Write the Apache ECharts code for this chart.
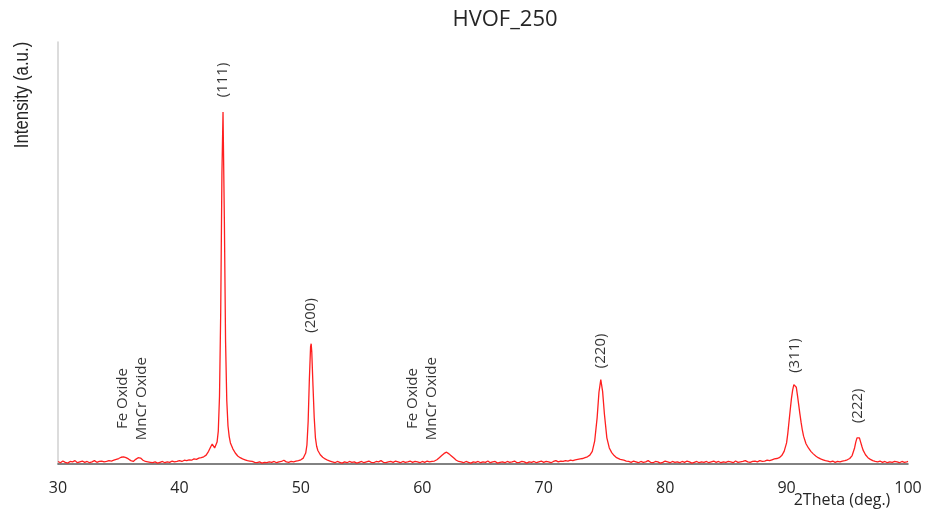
<!DOCTYPE html>
<html>
<head>
<meta charset="utf-8">
<title>HVOF_250</title>
<script src="https://cdn.jsdelivr.net/npm/echarts@6/dist/echarts.min.js"></script>
<style>
    html, body { margin: 0; padding: 0; background: #fff; }
    #chart { width: 935px; height: 513px; }
</style>
</head>
<body>
<div id="chart"></div>
<script>
'use strict';

// 2theta positions (deg.)
const twoTheta = [
    30.0, 30.2, 30.4, 30.6, 30.8, 31.0, 31.2, 31.4, 31.6, 31.8, 32.0, 32.2, 32.4, 32.6, 32.8,
    33.0, 33.2, 33.4, 33.6, 33.8, 34.0, 34.2, 34.4, 34.6, 34.8,
    35.0, 35.2, 35.4, 35.6, 35.8, 36.0, 36.2, 36.4, 36.6, 36.8, 37.0, 37.2, 37.4, 37.6,
    37.8, 38.0, 38.2, 38.4, 38.6, 38.8, 39.0, 39.2, 39.4, 39.6, 39.8, 40.0, 40.2, 40.4, 40.6,
    40.8, 41.0, 41.2, 41.4, 41.6, 41.8,
    42.0, 42.2, 42.4, 42.6, 42.7, 42.8, 42.9, 43.0, 43.1, 43.2, 43.3, 43.4, 43.5, 43.59,
    43.7, 43.8, 43.9, 44.0, 44.1, 44.2, 44.4, 44.6, 44.8, 45.0, 45.2, 45.4, 45.6, 45.8,
    46.0, 46.2, 46.4, 46.6, 46.8, 47.0, 47.2, 47.4, 47.6, 47.8, 48.0, 48.2, 48.4, 48.6,
    48.8, 49.0, 49.2, 49.4, 49.6, 49.8,
    50.0, 50.2, 50.4, 50.5, 50.6, 50.7, 50.8, 50.85, 50.9, 51.0, 51.1, 51.2, 51.3, 51.4,
    51.6, 51.8, 52.0, 52.2,
    52.4, 52.6, 52.8, 53.0, 53.2, 53.4, 53.6, 53.8, 54.0, 54.2, 54.4, 54.6, 54.8, 55.0,
    55.2, 55.4, 55.6, 55.8, 56.0, 56.2, 56.4, 56.6, 56.8, 57.0, 57.2, 57.4, 57.6, 57.8,
    58.0, 58.2, 58.4, 58.6, 58.8, 59.0, 59.2, 59.4, 59.6, 59.8, 60.0, 60.2, 60.4, 60.6, 60.8,
    61.0, 61.2, 61.4, 61.6, 61.8, 61.9, 62.0, 62.1, 62.2, 62.4, 62.6, 62.8, 63.0,
    63.2, 63.4, 63.6, 63.8, 64.0, 64.2, 64.4, 64.6, 64.8, 65.0, 65.2, 65.4, 65.6, 65.8,
    66.0, 66.2, 66.4, 66.6, 66.8, 67.0, 67.2, 67.4, 67.6, 67.8, 68.0, 68.2, 68.4, 68.6,
    68.8, 69.0, 69.2, 69.4, 69.6, 69.8, 70.0, 70.2, 70.4, 70.6, 70.8, 71.0, 71.2, 71.4,
    71.6, 71.8, 72.0, 72.2, 72.4, 72.6, 72.8,
    73.0, 73.2, 73.4, 73.6, 73.8, 74.0, 74.2, 74.4, 74.55, 74.7, 74.85, 75.0, 75.2, 75.4,
    75.6, 75.8, 76.0, 76.3, 76.6, 76.8,
    77.0, 77.2, 77.4, 77.6, 77.8, 78.0, 78.2, 78.4, 78.6, 78.8, 79.0, 79.2, 79.4, 79.6,
    79.8, 80.0, 80.2, 80.4, 80.6, 80.8, 81.0, 81.2, 81.4, 81.6, 81.8, 82.0, 82.2, 82.4,
    82.6, 82.8, 83.0, 83.2, 83.4, 83.6, 83.8, 84.0, 84.2, 84.4, 84.6, 84.8, 85.0, 85.2,
    85.4, 85.6, 85.8, 86.0, 86.2, 86.4, 86.6, 86.8, 87.0, 87.2, 87.4, 87.6, 87.8, 88.0,
    88.2, 88.4, 88.6, 88.8,
    89.0, 89.2, 89.4, 89.6, 89.8, 90.0, 90.1, 90.2, 90.3, 90.4, 90.5, 90.6, 90.7, 90.8,
    90.9, 91.0, 91.1, 91.2, 91.3, 91.4, 91.6, 91.8, 92.0, 92.2, 92.4, 92.6, 92.8, 93.0,
    93.2, 93.4,
    93.6, 93.8, 94.0, 94.2, 94.4, 94.6, 94.8,
    95.0, 95.2, 95.4, 95.6, 95.7, 95.8, 95.9, 96.0, 96.1, 96.2, 96.3, 96.5, 96.7, 96.9,
    97.1, 97.3,
    97.5, 97.7, 97.9, 98.1, 98.3, 98.5, 98.7, 98.9, 99.1, 99.3, 99.5, 99.7, 99.9, 100.0
];

// intensity (a.u.) at each position above
const intensity = [
    6, 3, 7, 4, 2, 6, 5, 8, 3, 5, 7, 4, 6, 3, 5,
    8, 4, 6, 7, 5, 6, 8, 7, 9, 11,
    13, 16, 17, 15, 12, 8, 6, 11, 15, 14, 9, 6, 5, 4,
    3, 5, 2, 4, 6, 3, 5, 4, 7, 5, 6, 8, 6, 9, 8,
    10, 9, 12, 11, 14, 15,
    17, 21, 30, 42, 47, 44, 38, 40, 52, 78, 160, 360, 690, 834,
    580, 290, 150, 90, 65, 50, 36, 26, 19, 15, 12, 10, 8, 7,
    6, 4, 3, 5, 2, 4, 3, 5, 4, 6, 3, 5, 6, 9,
    5, 4, 6, 5, 7, 8,
    10, 14, 26, 45, 100, 200, 278, 285, 265, 185, 110, 62, 42, 32,
    22, 16, 12, 9,
    7, 5, 3, 6, 4, 2, 5, 3, 6, 4, 5, 2, 4, 6,
    3, 5, 7, 4, 3, 6, 5, 8, 4, 3, 5, 6, 4, 7,
    5, 3, 6, 4, 5, 7, 4, 6, 5, 3, 6, 4, 7, 5, 6,
    7, 10, 15, 20, 25, 27, 28, 26, 24, 19, 14, 9, 6,
    5, 3, 6, 4, 2, 5, 4, 6, 3, 5, 4, 7, 3, 5,
    6, 2, 4, 5, 3, 6, 4, 5, 7, 3, 4, 6, 5, 2,
    5, 4, 6, 3, 5, 7, 4, 6, 5, 3, 6, 8, 5, 7,
    6, 8, 7, 9, 8, 10, 11,
    12, 13, 15, 17, 21, 30, 55, 110, 170, 200, 172, 118, 62, 38,
    27, 20, 15, 11, 9, 7,
    6, 4, 7, 5, 3, 6, 4, 5, 8, 4, 3, 6, 5, 2,
    4, 7, 5, 3, 6, 4, 5, 3, 6, 4, 7, 5, 2, 4,
    6, 3, 5, 4, 6, 3, 5, 7, 4, 6, 3, 5, 4, 6,
    5, 3, 7, 4, 5, 6, 8, 5, 4, 6, 7, 5, 8, 6,
    7, 9, 8, 10,
    12, 13, 15, 20, 30, 50, 72, 100, 128, 155, 175, 188, 192, 182,
    162, 140, 118, 98, 80, 66, 48, 38, 30, 24, 19, 15, 12, 10,
    8, 7,
    5, 7, 4, 6, 5, 7, 8,
    10, 13, 20, 38, 52, 62, 66, 62, 52, 42, 33, 22, 15, 11,
    8, 6,
    5, 7, 4, 6, 3, 5, 4, 6, 5, 3, 6, 4, 5, 6
];

// peak annotations
const peakNames = ['Fe Oxide\nMnCr Oxide', '(111)', '(200)', 'Fe Oxide\nMnCr Oxide', '(220)', '(311)', '(222)'];
const peakLabelX = [36.1, 43.59, 50.83, 60.0, 74.72, 90.69, 95.85];
const peakLabelY = [155, 910, 352, 155, 268, 257, 138];

const xTicks = { min: 30, max: 100, interval: 10 };

const FONT = '"Open Sans", "Noto Sans", sans-serif';

let chart = echarts.init(document.getElementById('chart'));

let pattern = twoTheta.map(function (t, i) {
    return [t, intensity[i]];
});
let peakMarks = peakLabelX.map(function (x, i) {
    return { value: [x, peakLabelY[i]], name: peakNames[i] };
});

let option = {
    animation: false,
    backgroundColor: '#fff',
    title: {
        text: 'HVOF_250',
        left: 500,
        top: 4,
        textAlign: 'center',
        textStyle: { fontFamily: FONT, fontSize: 22, fontWeight: 'normal', color: '#262626' }
    },
    grid: { left: 58, right: 27, top: 42, bottom: 49 },
    xAxis: {
        type: 'value',
        min: xTicks.min,
        max: xTicks.max,
        interval: xTicks.interval,
        axisLine: { lineStyle: { color: '#595959', width: 1.5 } },
        axisTick: { show: false },
        splitLine: { show: false },
        axisLabel: { margin: 16, fontFamily: FONT, fontSize: 16, color: '#262626' }
    },
    yAxis: {
        type: 'value',
        min: 0,
        max: 1000,
        axisLine: { show: true, lineStyle: { color: '#d0d0d0', width: 1.5 } },
        axisTick: { show: false },
        axisLabel: { show: false },
        splitLine: { show: false }
    },
    graphic: [
        {
            type: 'text',
            x: 22,
            y: 95,
            rotation: Math.PI / 2,
            scaleX: 0.8,
            style: {
                text: 'Intensity (a.u.)',
                font: '21px "Liberation Sans", Arial, sans-serif',
                fill: '#262626',
                textAlign: 'center',
                textVerticalAlign: 'middle',
                align: 'center',
                verticalAlign: 'middle'
            }
        },
        {
            type: 'text',
            x: 842,
            y: 500,
            style: {
                text: '2Theta (deg.)',
                font: '16px ' + FONT,
                fill: '#262626',
                textAlign: 'center',
                textVerticalAlign: 'middle',
                align: 'center',
                verticalAlign: 'middle'
            }
        }
    ],
    series: [
        {
            type: 'line',
            data: pattern,
            showSymbol: false,
            symbol: 'none',
            lineStyle: { color: '#ff1f1f', width: 1.3 },
            silent: true
        },
        {
            type: 'scatter',
            data: peakMarks,
            symbolSize: 1,
            itemStyle: { color: 'rgba(0,0,0,0)' },
            silent: true,
            label: {
                show: true,
                position: 'inside',
                rotate: 90,
                align: 'center',
                verticalAlign: 'middle',
                lineHeight: 19,
                fontFamily: FONT,
                fontSize: 15,
                color: '#000',
                formatter: function (p) { return p.name; }
            }
        }
    ]
};

chart.setOption(option, true);
</script>
</body>
</html>
